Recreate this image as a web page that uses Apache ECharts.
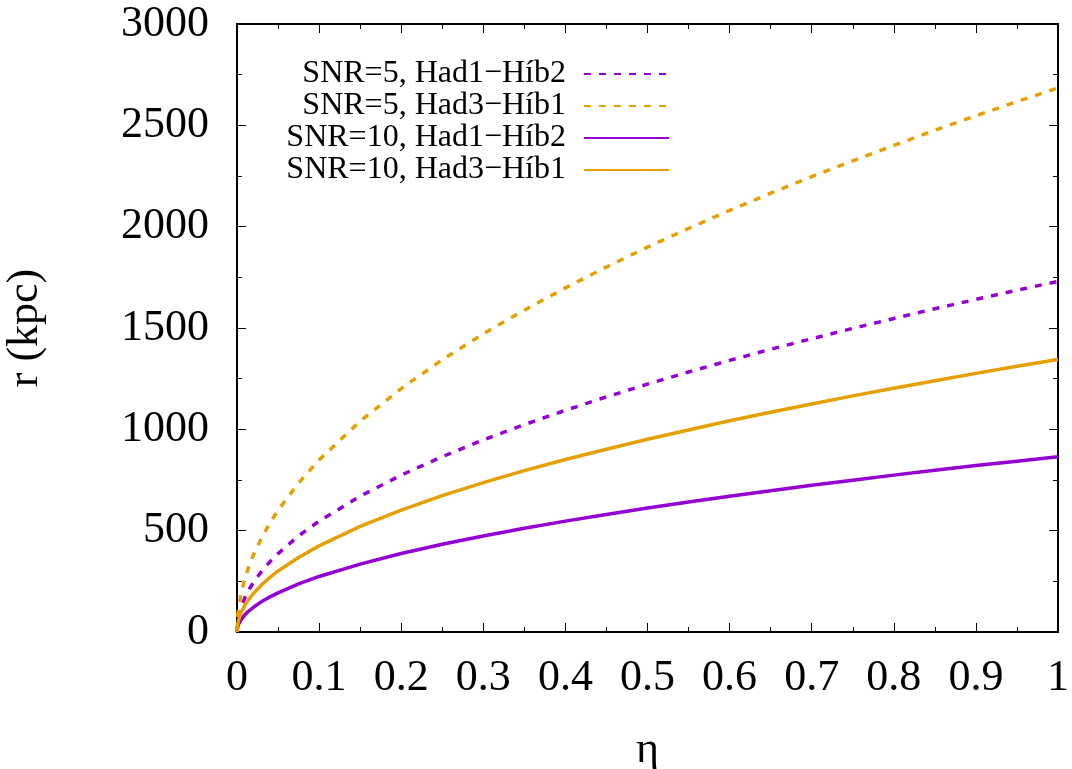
<!DOCTYPE html>
<html>
<head>
<meta charset="utf-8">
<script src="https://cdn.jsdelivr.net/npm/echarts@6/dist/echarts.min.js"></script>
<style>
html,body{margin:0;padding:0;background:#fff;}
#chart{width:1072px;height:769px;}
</style>
</head>
<body>
<div id="chart"></div>
<script>
// eta values (x) and r (kpc) values
const eta = [0, 0.001, 0.002, 0.005, 0.01, 0.015, 0.02, 0.03, 0.04, 0.05, 0.075, 0.1, 0.15, 0.2, 0.25, 0.3, 0.35, 0.4, 0.45, 0.5, 0.55, 0.6, 0.65, 0.7, 0.75, 0.8, 0.85, 0.9, 0.95, 1.0];
const snr5Had1 = [0, 55, 77, 122, 173, 212, 245, 300, 346, 387, 474, 547, 670, 774, 865, 948, 1023, 1094, 1160, 1223, 1283, 1340, 1395, 1447, 1498, 1547, 1595, 1641, 1686, 1730];
const snr5Had3 = [0, 85, 120, 190, 269, 329, 380, 465, 537, 600, 735, 849, 1040, 1201, 1343, 1471, 1588, 1698, 1801, 1899, 1991, 2080, 2165, 2247, 2325, 2401, 2476, 2547, 2617, 2685];
const snr10Had1 = [0, 27, 39, 61, 87, 106, 122, 150, 173, 193, 237, 274, 335, 387, 433, 474, 512, 547, 580, 612, 641, 670, 697, 724, 749, 774, 798, 821, 843, 865];
const snr10Had3 = [0, 43, 60, 95, 135, 165, 190, 233, 269, 301, 368, 425, 521, 601, 673, 737, 796, 851, 902, 951, 997, 1042, 1084, 1125, 1165, 1203, 1240, 1276, 1311, 1345];
const seriesNames = ['SNR=5, Had1\u2212H\u00edb2', 'SNR=5, Had3\u2212H\u00edb1', 'SNR=10, Had1\u2212H\u00edb2', 'SNR=10, Had3\u2212H\u00edb1'];

const purple = '#9400D3';
const orange = '#E69F00';
const font = '"Liberation Serif", "Times New Roman", serif';

function pairs(ys){ return eta.map((x,i)=>[x, ys[i]]); }

const chart = echarts.init(document.getElementById('chart'));
const tickStyle = {color:'#000', width:1};
const baseX = {
  type:'value', min:0, max:1, interval:0.1,
  axisLine:{show:true, onZero:false, lineStyle:{color:'#000', width:2}},
  axisTick:{show:true, inside:true, length:9, lineStyle:tickStyle},
  minorTick:{show:true, splitNumber:2, length:5, lineStyle:tickStyle},
  splitLine:{show:false}
};
const baseY = {
  type:'value', min:0, max:3000, interval:500,
  axisLine:{show:true, onZero:false, lineStyle:{color:'#000', width:2}},
  axisTick:{show:true, inside:true, length:9, lineStyle:tickStyle},
  minorTick:{show:true, splitNumber:2, length:5, lineStyle:tickStyle},
  splitLine:{show:false}
};
function mk(name, data, color, dashed){
  return {
    name, type:'line', data:pairs(data), showSymbol:false, symbol:'none',
    smooth:false,
    lineStyle:{color, width:3.5, type: dashed ? [7,8] : 'solid'},
    itemStyle:{color},
    animation:false
  };
}
chart.setOption({
  animation:false,
  backgroundColor:'#fff',
  grid:{left:237, right:14, top:24, bottom:137, containLabel:false, outerBoundsMode:'none'},
  legend:{
    orient:'vertical', align:'right', right:397, top:53,
    itemWidth:85, itemHeight:14, itemGap:0,
    data: seriesNames,
    itemStyle:{opacity:0},
    textStyle:{fontFamily:font, fontSize:32, color:'#000', padding:[0,13,0,0]}
  },
  xAxis:[
    Object.assign({}, baseX, {
      position:'bottom', name:'\u03b7', nameLocation:'middle', nameGap:96,
      nameTextStyle:{fontFamily:font, fontSize:44, color:'#000'},
      axisLabel:{fontFamily:font, fontSize:44, color:'#000', margin:24}
    }),
    Object.assign({}, baseX, {position:'top', axisLabel:{show:false}})
  ],
  yAxis:[
    Object.assign({}, baseY, {
      position:'left', name:'r (kpc)', nameLocation:'middle', nameGap:190,
      nameRotate:90,
      nameTextStyle:{fontFamily:font, fontSize:44, color:'#000'},
      axisLabel:{fontFamily:font, fontSize:44, color:'#000', margin:28, formatter:(v)=>String(v)}
    }),
    Object.assign({}, baseY, {position:'right', axisLabel:{show:false}})
  ],
  series:[
    mk(seriesNames[0], snr5Had1, purple, true),
    mk(seriesNames[1], snr5Had3, orange, true),
    mk(seriesNames[2], snr10Had1, purple, false),
    mk(seriesNames[3], snr10Had3, orange, false)
  ]
});
</script>
</body>
</html>
